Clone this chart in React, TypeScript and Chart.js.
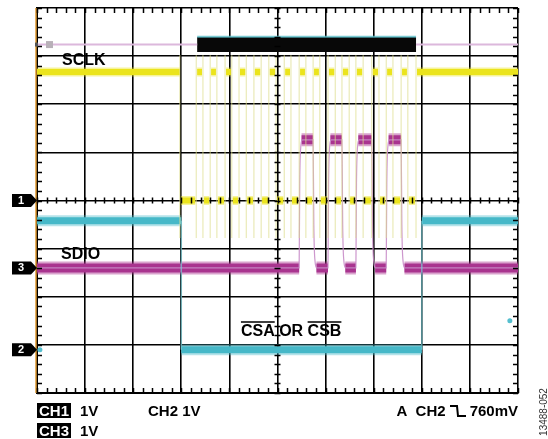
import React, { useEffect, useRef } from 'react';
import { Chart, registerables } from 'chart.js';

Chart.register(...registerables);

// Screen is 10 x 8 divisions; values below are in divisions.
const xRange = [0, 10];
const yRange = [0, 8];

// SCLK (yellow)
const sclkHigh = 6.67;
const sclkLow = 4.0;
const sclkFall = [2.97, 3.45, 3.74, 4.05, 4.35, 4.66, 4.97, 5.28, 5.59, 5.88, 6.2, 6.49, 6.78, 7.11, 7.4, 7.71];
const sclkRise = [3.31, 3.6, 3.91, 4.2, 4.51, 4.82, 5.14, 5.45, 5.74, 6.05, 6.34, 6.63, 6.96, 7.26, 7.57, 7.88];
const sclkEdgeSpan = [3.22, 7.02];

// SDIO (magenta)
const sdioLow = 2.6;
const sdioHigh = 5.26;
const sdioPulseStart = [5.45, 6.05, 6.63, 7.26];
const sdioPulseEnd = [5.74, 6.34, 6.96, 7.57];

// CSA / CSB (cyan)
const csHigh = 3.58;
const csLow = 0.9;
const csFall = 3.0;
const csRise = 8.0;
const csStrayX = [0.06, 9.83];
const csStrayY = [0.9, 1.5];

// Bus / zoom bar at top
const barLevel = 7.24;
const barStart = 3.33;
const barEnd = 7.88;

// Channel ground markers
const markerLabels = ['1', '3', '2'];
const markerLevels = [4.0, 2.6, 0.9];

const FONT = '"Liberation Sans", Arial, Helvetica, sans-serif';

type P = { x: number; y: number | null };

function segs(list: Array<Array<[number, number]>>): P[] {
  const out: P[] = [];
  list.forEach((s, i) => {
    s.forEach(([x, y]) => out.push({ x, y }));
    if (i < list.length - 1) out.push({ x: s[s.length - 1][0] + 0.0001, y: null });
  });
  return out;
}

function lineDs(data: P[], color: string, width: number, extra: any = {}) {
  return {
    type: 'line',
    data,
    borderColor: color,
    backgroundColor: color,
    borderWidth: width,
    pointRadius: 0,
    tension: 0,
    spanGaps: false,
    fill: false,
    borderCapStyle: 'butt',
    ...extra,
  };
}

function buildDatasets() {
  const [xMin, xMax] = xRange;
  // yellow edges
  const edges = [...sclkFall, ...sclkRise].sort((a, b) => a - b);
  const yEdges = segs(edges.map((e) => [[e, sclkEdgeSpan[0]], [e, sclkEdgeSpan[1]]] as Array<[number, number]>));
  // yellow flats
  const yFlats: Array<Array<[number, number]>> = [[[xMin, sclkHigh], [sclkFall[0], sclkHigh]]];
  for (let i = 0; i < sclkRise.length; i++) {
    yFlats.push([[sclkFall[i] + 0.02, sclkLow], [sclkRise[i] - 0.02, sclkLow]]);
    const next = i + 1 < sclkFall.length ? sclkFall[i + 1] : xMax;
    yFlats.push([[sclkRise[i] + 0.02, sclkHigh], [next - (i + 1 < sclkFall.length ? 0.02 : 0), sclkHigh]]);
  }
  const yFlat = segs(yFlats);

  // magenta path (thin edges)
  const mPath: P[] = [{ x: xMin, y: sdioLow }];
  sdioPulseStart.forEach((s, i) => {
    const e = sdioPulseEnd[i];
    mPath.push({ x: s, y: sdioLow });
    mPath.push({ x: s + 0.012, y: sdioHigh - 0.9 });
    mPath.push({ x: s + 0.03, y: sdioHigh - 0.2 });
    mPath.push({ x: s + 0.07, y: sdioHigh });
    mPath.push({ x: e, y: sdioHigh });
    mPath.push({ x: e + 0.015, y: sdioLow + 0.9 });
    mPath.push({ x: e + 0.035, y: sdioLow + 0.2 });
    mPath.push({ x: e + 0.08, y: sdioLow });
  });
  mPath.push({ x: xMax, y: sdioLow });
  const mFlats: Array<Array<[number, number]>> = [];
  let cur = xMin;
  sdioPulseStart.forEach((s, i) => {
    const e = sdioPulseEnd[i];
    mFlats.push([[cur, sdioLow], [s, sdioLow]]);
    mFlats.push([[s + 0.05, sdioHigh], [e, sdioHigh]]);
    cur = e + 0.07;
  });
  mFlats.push([[cur, sdioLow], [xMax, sdioLow]]);
  const mFlat = segs(mFlats);

  // cyan
  const cEdges = segs([
    [[csFall, csLow], [csFall, csHigh]],
    [[csRise, csLow], [csRise, csHigh]],
  ]);
  const cFlat = segs([
    [[xMin, csHigh], [csFall, csHigh]],
    [[csFall, csLow], [csRise, csLow]],
    [[csRise, csHigh], [xMax, csHigh]],
  ]);
  const cDots = csStrayX.map((x, i) => ({ x, y: csStrayY[i] }));

  const lav = segs([
    [[xMin, barLevel], [barStart, barLevel]],
    [[barEnd, barLevel], [xMax, barLevel]],
  ]);
  const bar = segs([[[barStart, barLevel], [barEnd, barLevel]]]);
  const barTop = segs([[[barStart, barLevel + 0.165], [barEnd, barLevel + 0.165]]]);

  return [
    lineDs(yEdges, 'rgba(222,222,140,0.75)', 1),
    lineDs(cEdges, 'rgba(120,205,215,0.7)', 1.5),
    lineDs(mPath, 'rgba(200,140,200,0.9)', 1.2, { cubicInterpolationMode: 'monotone' }),
    lineDs(lav, '#dcb8dc', 2),
    lineDs(barTop, 'rgba(90,190,200,0.8)', 2),
    lineDs(bar, '#080808', 15),
    lineDs(cFlat, 'rgba(70,185,200,0.4)', 11),
    lineDs(cFlat, '#46b8c8', 7),
    lineDs(yFlat, 'rgba(236,228,30,0.45)', 9),
    lineDs(yFlat, '#ebe31c', 6),
    lineDs(mFlat, 'rgba(170,52,145,0.45)', 13),
    lineDs(mFlat, '#a8358f', 9),
    { type: 'scatter', data: cDots, pointRadius: 2.5, backgroundColor: '#55bfcf', borderWidth: 0 },
  ];
}

const scopePlugin = {
  id: 'scopeDecor',
  afterDraw(chart: any) {
    const { ctx, chartArea: a, scales } = chart;
    const x = scales.x;
    const y = scales.y;
    ctx.save();
    // orange left edge
    ctx.strokeStyle = '#e09a30';
    ctx.lineWidth = 1.5;
    ctx.beginPath();
    ctx.moveTo(a.left - 1, a.top);
    ctx.lineTo(a.left - 1, a.bottom);
    ctx.stroke();

    // minor ticks
    ctx.strokeStyle = '#000';
    ctx.lineWidth = 1.5;
    const cy = y.getPixelForValue((yRange[0] + yRange[1]) / 2);
    const cx = x.getPixelForValue((xRange[0] + xRange[1]) / 2);
    ctx.beginPath();
    for (let i = 0; i <= 50; i++) {
      const v = xRange[0] + (i * (xRange[1] - xRange[0])) / 50;
      const px = Math.round(x.getPixelForValue(v)) + 0.5;
      ctx.moveTo(px, a.top);
      ctx.lineTo(px, a.top + 5);
      ctx.moveTo(px, a.bottom - 5);
      ctx.lineTo(px, a.bottom);
      ctx.moveTo(px, cy - 3);
      ctx.lineTo(px, cy + 3);
    }
    for (let i = 0; i <= 40; i++) {
      const v = yRange[0] + (i * (yRange[1] - yRange[0])) / 40;
      const py = Math.round(y.getPixelForValue(v)) + 0.5;
      ctx.moveTo(a.left, py);
      ctx.lineTo(a.left + 5, py);
      ctx.moveTo(a.right - 5, py);
      ctx.lineTo(a.right, py);
      ctx.moveTo(cx - 3, py);
      ctx.lineTo(cx + 3, py);
    }
    ctx.stroke();

    // small trace marker at top-left
    const ly = y.getPixelForValue(barLevel);
    ctx.fillStyle = '#b8b0b8';
    ctx.fillRect(a.left + 9, ly - 3.5, 7, 7);
    ctx.fillStyle = '#555';
    ctx.fillRect(a.left - 2, ly - 2, 3, 4);

    // channel markers
    markerLabels.forEach((lab, i) => {
      const py = y.getPixelForValue(markerLevels[i]);
      const l = a.left;
      ctx.fillStyle = '#000';
      ctx.beginPath();
      ctx.moveTo(l - 25, py - 6.5);
      ctx.lineTo(l - 6, py - 6.5);
      ctx.lineTo(l, py);
      ctx.lineTo(l - 6, py + 6.5);
      ctx.lineTo(l - 25, py + 6.5);
      ctx.closePath();
      ctx.fill();
      ctx.fillStyle = '#fff';
      ctx.font = `bold 11px ${FONT}`;
      ctx.textAlign = 'center';
      ctx.textBaseline = 'middle';
      ctx.fillText(lab, l - 16, py + 0.5);
    });

    // labels
    ctx.fillStyle = '#000';
    ctx.font = `bold 16px ${FONT}`;
    ctx.textAlign = 'left';
    ctx.textBaseline = 'middle';
    ctx.fillText('SCLK', x.getPixelForValue(0.52), y.getPixelForValue(6.9));
    ctx.fillText('SDIO', x.getPixelForValue(0.5), y.getPixelForValue(2.88));
    const lx = x.getPixelForValue(4.24);
    const lyy = y.getPixelForValue(1.28);
    const t1 = 'CSA';
    const t2 = ' OR ';
    const t3 = 'CSB';
    ctx.fillText(t1, lx, lyy);
    const w1 = ctx.measureText(t1).width;
    const w2 = ctx.measureText(t2).width;
    const w3 = ctx.measureText(t3).width;
    ctx.fillText(t2, lx + w1, lyy);
    ctx.fillText(t3, lx + w1 + w2, lyy);
    ctx.lineWidth = 1.5;
    ctx.beginPath();
    ctx.moveTo(lx, lyy - 9.5);
    ctx.lineTo(lx + w1, lyy - 9.5);
    ctx.moveTo(lx + w1 + w2, lyy - 9.5);
    ctx.lineTo(lx + w1 + w2 + w3, lyy - 9.5);
    ctx.stroke();
    ctx.restore();
  },
};

export default function App() {
  const ref = useRef<HTMLCanvasElement | null>(null);
  useEffect(() => {
    document.body.style.margin = '0';
    const canvas = ref.current;
    if (!canvas) return;
    const chart = new Chart(canvas, {
      type: 'line',
      data: { datasets: buildDatasets() as any },
      options: {
        responsive: false,
        animation: false,
        events: [],
        layout: { padding: { left: 37, top: 8, right: 30, bottom: 46 } },
        plugins: { legend: { display: false }, tooltip: { enabled: false } },
        scales: {
          x: {
            type: 'linear',
            min: xRange[0],
            max: xRange[1],
            z: 1,
            ticks: { display: false, stepSize: 1 },
            grid: { color: '#000', lineWidth: 1.6, drawTicks: false },
            border: { color: '#000', width: 2 },
          },
          y: {
            type: 'linear',
            min: yRange[0],
            max: yRange[1],
            z: 1,
            ticks: { display: false, stepSize: 1 },
            grid: { color: '#000', lineWidth: 1.6, drawTicks: false },
            border: { color: '#000', width: 2 },
          },
        },
      },
      plugins: [scopePlugin],
    });
    return () => chart.destroy();
  }, []);

  const txt: React.CSSProperties = {
    position: 'absolute',
    fontFamily: FONT,
    fontWeight: 'bold',
    fontSize: '15px',
    lineHeight: '15px',
    color: '#000',
    whiteSpace: 'nowrap',
  };
  const box: React.CSSProperties = { ...txt, background: '#000', color: '#fff', padding: '0 2px' };

  return (
    <div style={{ position: 'relative', width: 548, height: 439, background: '#fff', overflow: 'hidden' }}>
      <canvas ref={ref} width={548} height={439} style={{ display: 'block' }} />
      <div style={{ ...box, left: 37, top: 403 }}>CH1</div>
      <div style={{ ...txt, left: 80, top: 403 }}>1V</div>
      <div style={{ ...txt, left: 148, top: 403 }}>CH2 1V</div>
      <div style={{ ...box, left: 37, top: 423 }}>CH3</div>
      <div style={{ ...txt, left: 80, top: 423 }}>1V</div>
      <div style={{ ...txt, right: 30, top: 403, display: 'flex', alignItems: 'center' }}>
        <span>A&nbsp;&nbsp;CH2</span>
        <svg width="18" height="14" viewBox="0 0 18 14" style={{ margin: '0 3px' }}>
          <polyline points="1,2 8,2 9,12 17,12" fill="none" stroke="#000" strokeWidth="2" />
        </svg>
        <span>760mV</span>
      </div>
      <div
        style={{
          position: 'absolute',
          left: 543,
          top: 412,
          transform: 'translate(-50%, -50%) rotate(-90deg)',
          fontFamily: FONT,
          fontSize: '10px',
          color: '#333',
          whiteSpace: 'nowrap',
        }}
      >
        13488-052
      </div>
    </div>
  );
}
